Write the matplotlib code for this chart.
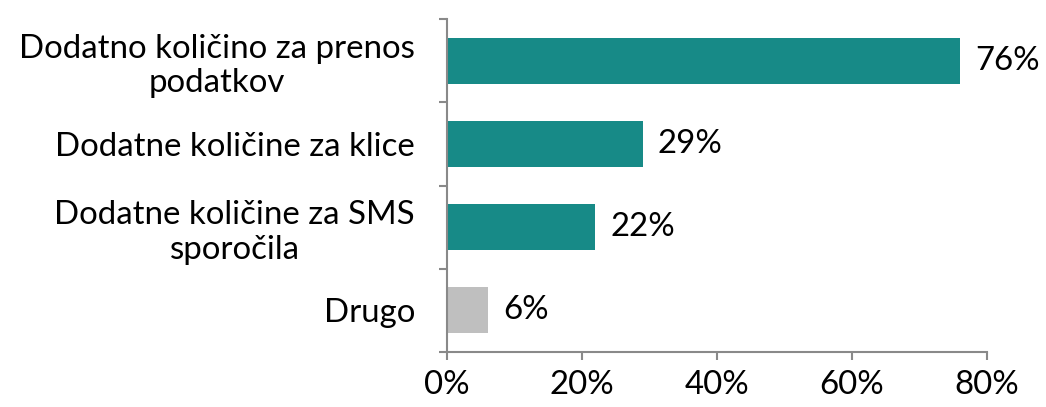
import matplotlib.pyplot as plt

# data
categories = ['Dodatno količino za prenos\npodatkov', 'Dodatne količine za klice',
              'Dodatne količine za SMS\nsporočila', 'Drugo']
values = [76, 29, 22, 6]
colors = ['#178A87', '#178A87', '#178A87', '#BFBFBF']
xticks = [0, 20, 40, 60, 80]

plt.rcParams['font.family'] = ['Lato', 'DejaVu Sans']
fs = 23.8

fig = plt.figure(figsize=(10.46, 4.07), dpi=100)
ax = fig.add_axes([0.4274, 0.1351, 0.5159, 0.8182])

pos = list(range(len(categories)))
ax.barh(pos, values, height=0.55, color=colors)

# value labels
for p, v in zip(pos, values):
    ax.annotate(f'{v}%', (v, p), xytext=(11, 0), textcoords='offset points',
                va='center', ha='left', fontsize=fs, color='black')

ax.set_ylim(3.5, -0.5)
ax.set_xlim(0, 80)
ax.set_xticks(xticks)
ax.set_xticklabels([f'{t}%' for t in xticks], fontsize=fs)
ax.set_yticks(pos)
ax.set_yticklabels(categories, fontsize=fs, multialignment='center')
ax.set_yticks([-0.5, 0.5, 1.5, 2.5, 3.5], minor=True)

axis_color = '#898989'
for side in ['top', 'right']:
    ax.spines[side].set_visible(False)
for side in ['left', 'bottom']:
    ax.spines[side].set_color(axis_color)
    ax.spines[side].set_linewidth(1.5)

ax.tick_params(axis='y', which='major', length=0, pad=23)
ax.tick_params(axis='y', which='minor', length=6, width=1.5, color=axis_color)
ax.tick_params(axis='x', length=6, width=1.5, color=axis_color, pad=7)

fig.savefig('out.png', dpi=100)
